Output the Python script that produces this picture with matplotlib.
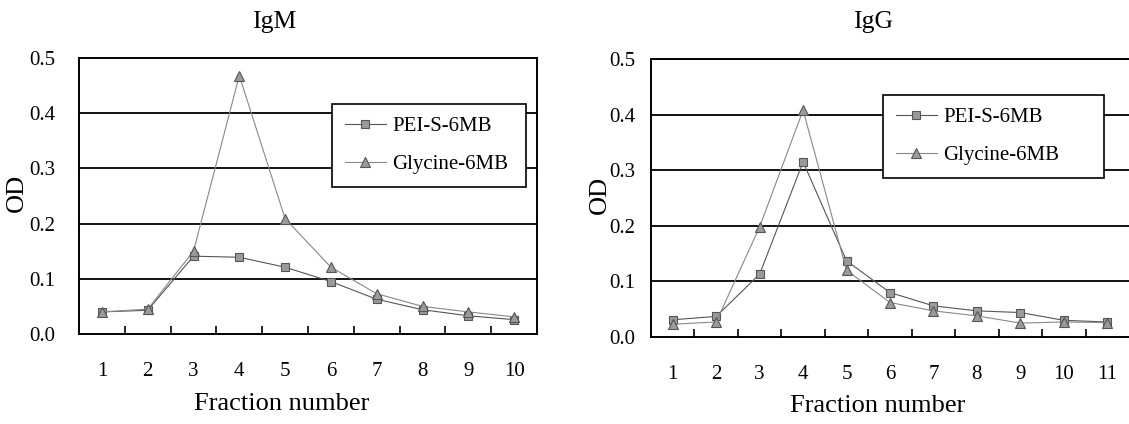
import numpy as np
import matplotlib
matplotlib.use("Agg")
import matplotlib.pyplot as plt
from matplotlib.ticker import FormatStrFormatter

plt.rcParams['font.family'] = ['Liberation Serif', 'DejaVu Serif']

# IgM panel
igm_fractions = [1, 2, 3, 4, 5, 6, 7, 8, 9, 10]
igm_pei = [0.040, 0.043, 0.141, 0.139, 0.121, 0.095, 0.063, 0.044, 0.033, 0.026]
igm_gly = [0.040, 0.045, 0.150, 0.468, 0.209, 0.121, 0.073, 0.050, 0.040, 0.031]

# IgG panel
igg_fractions = [1, 2, 3, 4, 5, 6, 7, 8, 9, 10, 11]
igg_pei = [0.031, 0.037, 0.113, 0.315, 0.137, 0.080, 0.056, 0.047, 0.044, 0.030, 0.027]
igg_gly = [0.023, 0.027, 0.198, 0.408, 0.120, 0.062, 0.047, 0.038, 0.025, 0.027, 0.026]

labels = ["PEI-S-6MB", "Glycine-6MB"]
yticks = [0.0, 0.1, 0.2, 0.3, 0.4, 0.5]

W, H = 1129, 424
fig = plt.figure(figsize=(W / 100, H / 100), dpi=100)


def px_axes(left, top, right, bottom):
    return fig.add_axes([left / W, 1 - bottom / H, (right - left) / W, (bottom - top) / H])


def panel(ax, x, pei, gly, ypad, leg_box, ylab_x):
    ax.plot(x, pei, color='#555555', lw=0.8, marker='s', ms=6,
            mfc='#9a9a9a', mec='#555555', mew=0.8, label=labels[0], zorder=3)
    ax.plot(x, gly, color='#888888', lw=0.8, marker='^', ms=6.5,
            mfc='#9a9a9a', mec='#555555', mew=0.8, label=labels[1], zorder=3)

    n = len(x)
    ax.set_xlim(0.5, n + 0.5)
    ax.set_ylim(0, 0.5)
    ax.set_xticks(x)
    ax.set_xticks(np.arange(1.5, n, 1.0), minor=True)
    ax.tick_params(axis='x', which='major', length=0, pad=20, labelsize=15)
    ax.tick_params(axis='x', which='minor', direction='in', length=6, width=1.2, color='black')
    ax.set_yticks(yticks)
    ax.yaxis.set_major_formatter(FormatStrFormatter('%.1f'))
    ax.tick_params(axis='y', length=0, pad=ypad, labelsize=15)

    for yv in yticks[1:5]:
        ax.axhline(yv, color='black', lw=1.3, zorder=1)
    for s in ['left', 'bottom', 'top', 'right']:
        ax.spines[s].set_linewidth(1.4)

    ax.set_ylabel("OD", fontsize=19)
    ax.yaxis.set_label_coords(ylab_x, 0.51)

    leg = ax.legend(loc='upper left', bbox_to_anchor=leg_box, mode='expand',
                    borderaxespad=0, fancybox=False, framealpha=1,
                    edgecolor='black', fontsize=15, handlelength=2.0,
                    handletextpad=0.3, labelspacing=0.9, borderpad=0.6)
    leg.get_frame().set_linewidth(1.2)
    leg.set_zorder(5)


# left panel: IgM
ax1 = px_axes(79, 58, 537, 334)
panel(ax1, igm_fractions, igm_pei, igm_gly, 17,
      ((332 - 79) / 458, 0, (526 - 332) / 458, (334 - 104) / 276), -0.111)
fig.text(274 / W, 1 - 22 / H, "IgM", ha='center', va='center', fontsize=18.5)
fig.text(282 / W, 1 - 404 / H, "Fraction number", ha='center', va='center', fontsize=19)

# right panel: IgG (right edge cut off in the reference)
ax2 = px_axes(651, 59, 1129, 337)
ax2.spines['right'].set_visible(False)
panel(ax2, igg_fractions, igg_pei, igg_gly, 11,
      ((883 - 651) / 478, 0, (1104 - 883) / 478, (337 - 95) / 278), -0.084)
fig.text(873 / W, 1 - 22 / H, "IgG", ha='center', va='center', fontsize=18.5)
fig.text(878 / W, 1 - 406 / H, "Fraction number", ha='center', va='center', fontsize=19)

fig.savefig("out.png", dpi=100)
